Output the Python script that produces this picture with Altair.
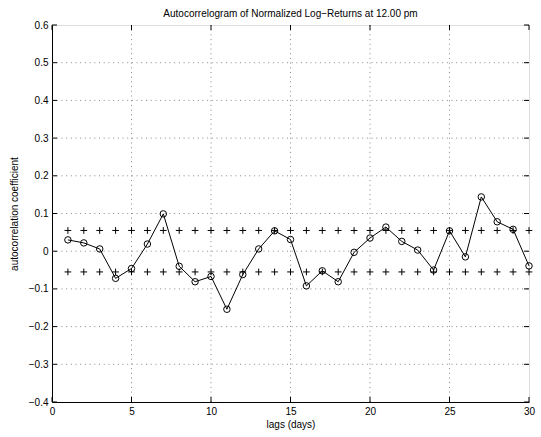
import altair as alt
import pandas as pd

lags = list(range(1, 31))
acf = [0.030, 0.022, 0.006, -0.072, -0.046, 0.019, 0.099, -0.040, -0.081, -0.067,
       -0.154, -0.062, 0.006, 0.054, 0.031, -0.092, -0.052, -0.081, -0.003, 0.035,
       0.064, 0.026, 0.003, -0.050, 0.054, -0.015, 0.144, 0.078, 0.058, -0.039]
conf = 0.055
x_ticks = [0, 5, 10, 15, 20, 25, 30]
y_ticks = [-0.4, -0.3, -0.2, -0.1, 0.0, 0.1, 0.2, 0.3, 0.4, 0.5, 0.6]
x_grid = [5, 10, 15, 20, 25]
y_grid = [-0.3, -0.2, -0.1, 0.0, 0.1, 0.2, 0.3, 0.4, 0.5]

W, H = 477, 377
FONT = "Liberation Sans"

df = pd.DataFrame({"lag": lags, "acf": acf})
bounds = pd.DataFrame({"lag": lags * 2, "b": [conf] * 30 + [-conf] * 30})
xt = pd.DataFrame({"v": x_ticks})
yt = pd.DataFrame({"v": y_ticks})
xg = pd.DataFrame({"v": x_grid})
yg = pd.DataFrame({"v": y_grid})

xs = alt.Scale(domain=[0, 30], nice=False, zero=False)
ys = alt.Scale(domain=[-0.4, 0.6], nice=False, zero=False)

x_axis = alt.Axis(values=x_ticks, title="lags (days)", grid=False, ticks=False,
                  labelFontSize=10, labelPadding=4, titleFontSize=10,
                  titleFontWeight="normal", titlePadding=3, domainColor="black",
                  labelColor="black", titleColor="black", labelFont=FONT, titleFont=FONT,
                  labelFlush=False, labelOverlap=False)
y_axis = alt.Axis(values=y_ticks, title="autocorrelation coefficient", grid=False, ticks=False,
                  labelFontSize=10, labelPadding=4, titleFontSize=10,
                  titleFontWeight="normal", titlePadding=9, domainColor="black",
                  labelColor="black", titleColor="black", labelFont=FONT, titleFont=FONT,
                  labelFlush=False, labelOverlap=False,
                  labelExpr="abs(datum.value) < 1e-9 ? '0' : format(datum.value, '.1f')")

def X(f):
    return alt.X(f, scale=xs, axis=x_axis)

def Y(f):
    return alt.Y(f, scale=ys, axis=y_axis)

grid_dash = [1, 3.7]
gx = alt.Chart(xg).mark_rule(color="#888", strokeDash=grid_dash, strokeWidth=1).encode(
    x=X("v:Q"), y=alt.value(0), y2=alt.value(H))
gy = alt.Chart(yg).mark_rule(color="#888", strokeDash=grid_dash, strokeWidth=1).encode(
    y=Y("v:Q"), x=alt.value(0), x2=alt.value(W))

tl = alt.Chart(yt).mark_rule(color="black").encode(
    y=Y("v:Q"), x=alt.value(0), x2=alt.value(5))
tr = alt.Chart(yt).mark_rule(color="black").encode(
    y=Y("v:Q"), x=alt.value(W - 5), x2=alt.value(W))
tb = alt.Chart(xt).mark_rule(color="black").encode(
    x=X("v:Q"), y=alt.value(H - 5), y2=alt.value(H))
tt = alt.Chart(xt).mark_rule(color="black").encode(
    x=X("v:Q"), y=alt.value(0), y2=alt.value(5))

plus = alt.Chart(bounds).mark_point(
    shape="M-1,0L1,0M0,-1L0,1", size=45, filled=False, color="black", strokeWidth=1, opacity=1
).encode(x=X("lag:Q"), y=Y("b:Q"))

line = alt.Chart(df).mark_line(color="black", strokeWidth=1).encode(
    x=X("lag:Q"), y=Y("acf:Q"))
pts = alt.Chart(df).mark_point(
    shape="circle", size=42, filled=False, color="black", strokeWidth=1, opacity=1
).encode(x=X("lag:Q"), y=Y("acf:Q"))

chart = alt.layer(gx, gy, tl, tr, tb, tt, plus, line, pts).properties(
    width=W, height=H,
    title=alt.TitleParams("Autocorrelogram of Normalized Log\u2212Returns at 12.00 pm",
                          fontSize=10, fontWeight="normal", font=FONT, color="black",
                          offset=1, anchor="middle"),
    autosize=alt.AutoSizeParams(type="none"),
    padding={"left": 52, "top": 25, "right": 12, "bottom": 35},
).configure_view(stroke="black", strokeWidth=1).configure_axis(
    labelOverlap=False
).configure(background="white")

chart.save("out.html", embed_options={"renderer": "svg", "actions": False})
